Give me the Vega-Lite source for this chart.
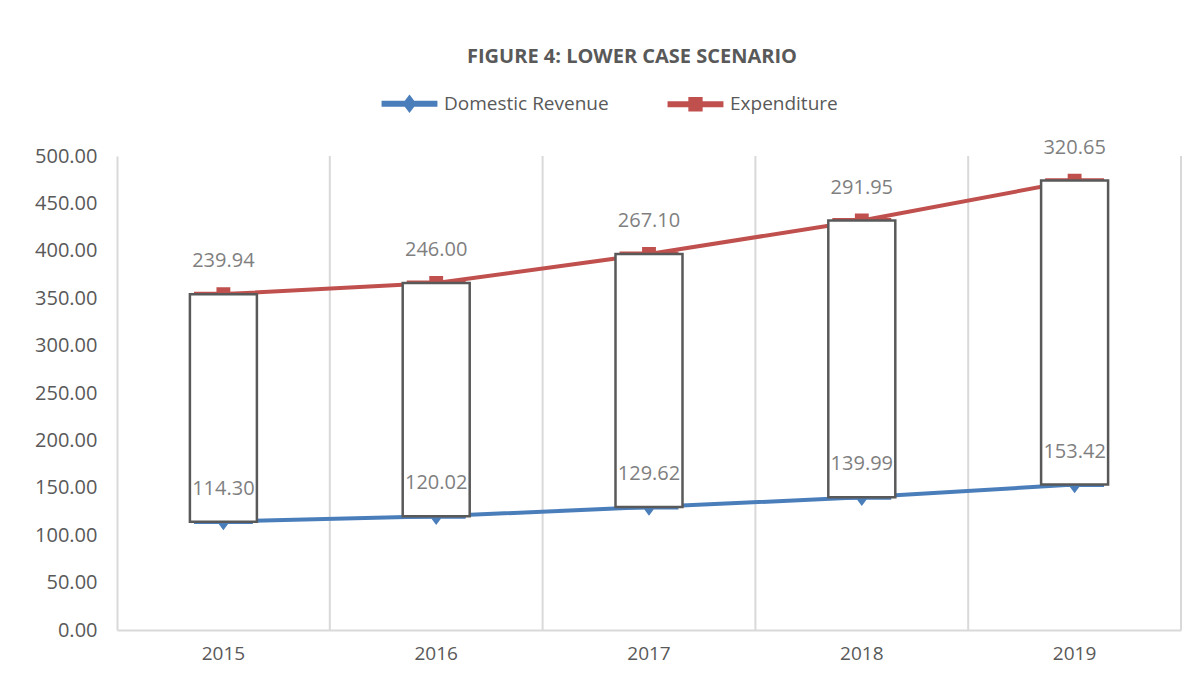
{
  "$schema": "https://vega.github.io/schema/vega-lite/v6.json",
  "width": 1064,
  "height": 474,
  "autosize": {"type": "none"},
  "padding": {"left": 117, "top": 156, "right": 17, "bottom": 49},
  "background": "white",
  "title": {
    "text": "FIGURE 4: LOWER CASE SCENARIO",
    "fontSize": 20,
    "fontWeight": "bold",
    "color": "#595959",
    "font": "Open Sans",
    "anchor": "middle",
    "dx": -17,
    "offset": 27
  },
  "datasets": {
    "series": [
      {"year": "2015", "series": "Domestic Revenue", "value": 114.30, "label": 114.30},
      {"year": "2016", "series": "Domestic Revenue", "value": 120.02, "label": 120.02},
      {"year": "2017", "series": "Domestic Revenue", "value": 129.62, "label": 129.62},
      {"year": "2018", "series": "Domestic Revenue", "value": 139.99, "label": 139.99},
      {"year": "2019", "series": "Domestic Revenue", "value": 153.42, "label": 153.42},
      {"year": "2015", "series": "Expenditure", "value": 354.24, "label": 239.94},
      {"year": "2016", "series": "Expenditure", "value": 366.02, "label": 246.00},
      {"year": "2017", "series": "Expenditure", "value": 396.72, "label": 267.10},
      {"year": "2018", "series": "Expenditure", "value": 431.94, "label": 291.95},
      {"year": "2019", "series": "Expenditure", "value": 474.07, "label": 320.65}
    ],
    "years": [
      {"year": "2015", "revenue": 114.30, "total": 354.24},
      {"year": "2016", "revenue": 120.02, "total": 366.02},
      {"year": "2017", "revenue": 129.62, "total": 396.72},
      {"year": "2018", "revenue": 139.99, "total": 431.94},
      {"year": "2019", "revenue": 153.42, "total": 474.07}
    ]
  },
  "config": {
    "view": {"stroke": null},
    "font": "Open Sans",
    "legend": {
      "title": null,
      "orient": "none",
      "direction": "horizontal",
      "legendX": 283,
      "legendY": -62,
      "labelFontSize": 19,
      "labelColor": "#595959",
      "labelOffset": 25,
      "labelLimit": 400,
      "columnPadding": 56,
      "symbolSize": 256,
      "symbolOpacity": 1
    },
    "axisX": {
      "domainColor": "#d9d9d9",
      "domainWidth": 2,
      "ticks": false,
      "grid": false,
      "labelFontSize": 19,
      "labelColor": "#595959",
      "labelPadding": 14,
      "labelAngle": 0,
      "title": null
    },
    "axisY": {
      "domainColor": "#d9d9d9",
      "domainWidth": 2,
      "ticks": false,
      "grid": false,
      "labelFontSize": 20,
      "labelColor": "#595959",
      "labelPadding": 20,
      "title": null
    }
  },
  "layer": [
    {
      "data": {"name": "years"},
      "mark": {"type": "rule", "color": "#d9d9d9", "strokeWidth": 2},
      "encoding": {
        "x": {"field": "year", "type": "nominal", "bandPosition": 1,
              "scale": {"type": "band", "paddingInner": 0, "paddingOuter": 0}}
      }
    },
    {
      "data": {"name": "series"},
      "mark": {"type": "line", "strokeWidth": 4},
      "encoding": {
        "x": {"field": "year", "type": "nominal", "scale": {"type": "band", "paddingInner": 0, "paddingOuter": 0}},
        "y": {"field": "value", "type": "quantitative", "scale": {"domain": [0, 500], "nice": false}},
        "color": {"field": "series", "type": "nominal",
                  "scale": {"domain": ["Domestic Revenue", "Expenditure"], "range": ["#4a7ebb", "#c0504d"]}}
      }
    },
    {
      "data": {"name": "series"},
      "mark": {"type": "point", "filled": true, "opacity": 1, "size": 300},
      "encoding": {
        "x": {"field": "year", "type": "nominal", "scale": {"type": "band", "paddingInner": 0, "paddingOuter": 0}},
        "y": {"field": "value", "type": "quantitative", "scale": {"domain": [0, 500], "nice": false}},
        "color": {"field": "series", "type": "nominal",
                  "scale": {"domain": ["Domestic Revenue", "Expenditure"], "range": ["#4a7ebb", "#c0504d"]}},
        "shape": {"field": "series", "type": "nominal",
                  "scale": {"domain": ["Domestic Revenue", "Expenditure"],
                            "range": [
                              "M-3.4,-0.28L-0.54,-0.28L0,-1L0.54,-0.28L3.4,-0.28L3.4,0.28L0.54,0.28L0,1L-0.54,0.28L-3.4,0.28Z",
                              "M-3.4,-0.28L-0.8,-0.28L-0.8,-0.8L0.8,-0.8L0.8,-0.28L3.4,-0.28L3.4,0.28L0.8,0.28L0.8,0.8L-0.8,0.8L-0.8,0.28L-3.4,0.28Z"
                            ]}}
      }
    },
    {
      "data": {"name": "years"},
      "mark": {"type": "bar", "fill": "white", "stroke": "#595959", "strokeWidth": 2.5, "size": 67},
      "encoding": {
        "x": {"field": "year", "type": "nominal", "scale": {"type": "band", "paddingInner": 0, "paddingOuter": 0}},
        "y": {"field": "revenue", "type": "quantitative", "scale": {"domain": [0, 500], "nice": false},
              "axis": {"values": [0, 50, 100, 150, 200, 250, 300, 350, 400, 450, 500], "format": ".2f"}},
        "y2": {"field": "total"}
      }
    },
    {
      "data": {"name": "series"},
      "mark": {"type": "text", "fontSize": 20, "color": "#7f7f7f", "dy": -33, "baseline": "middle"},
      "encoding": {
        "x": {"field": "year", "type": "nominal", "scale": {"type": "band", "paddingInner": 0, "paddingOuter": 0}},
        "y": {"field": "value", "type": "quantitative", "scale": {"domain": [0, 500], "nice": false}},
        "text": {"field": "label", "type": "quantitative", "format": ".2f"}
      }
    }
  ]
}
